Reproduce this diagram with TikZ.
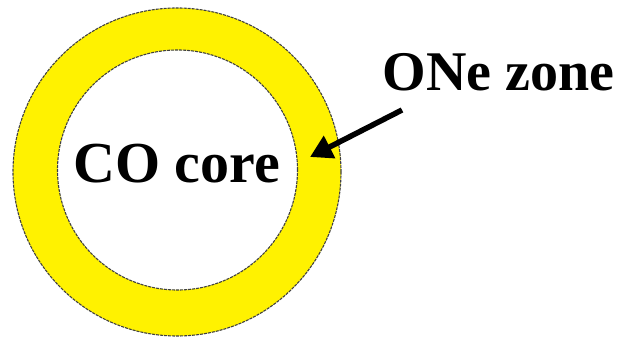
\documentclass[tikz,border=0pt]{standalone}
\usepackage{fontspec}
\setmainfont{Liberation Serif}
\usepackage{tikz}
\usetikzlibrary{arrows.meta}

\begin{document}
\begin{tikzpicture}[x=1pt, y=1pt, every node/.style={font=\bfseries}]
    \useasboundingbox (0,0) rectangle (626,339);
    % yellow shell with the white core inside
    \fill[yellow, even odd rule] (177,167) circle (164) (177.5,169) circle (120);
    \foreach \r/\cx/\cy in {164/177/167, 120/177.5/169} {
        \draw[black!75, line width=1.1pt, dash pattern=on 3pt off 1pt] (\cx,\cy) circle (\r);
    }
    \node[font=\bfseries\fontsize{58}{60}\selectfont] (core) at (176.5,175) {CO core};
    \node[font=\bfseries\fontsize{56}{58}\selectfont, anchor=base west] (zone) at (379,248) {ONe zone};
    \coordinate (tail) at (402,229);
    \coordinate (tip) at (310,182);
    \draw[line width=5.5pt, -{Triangle[length=22pt, width=24pt]}] (tail) -- (tip);
\end{tikzpicture}
\end{document}
